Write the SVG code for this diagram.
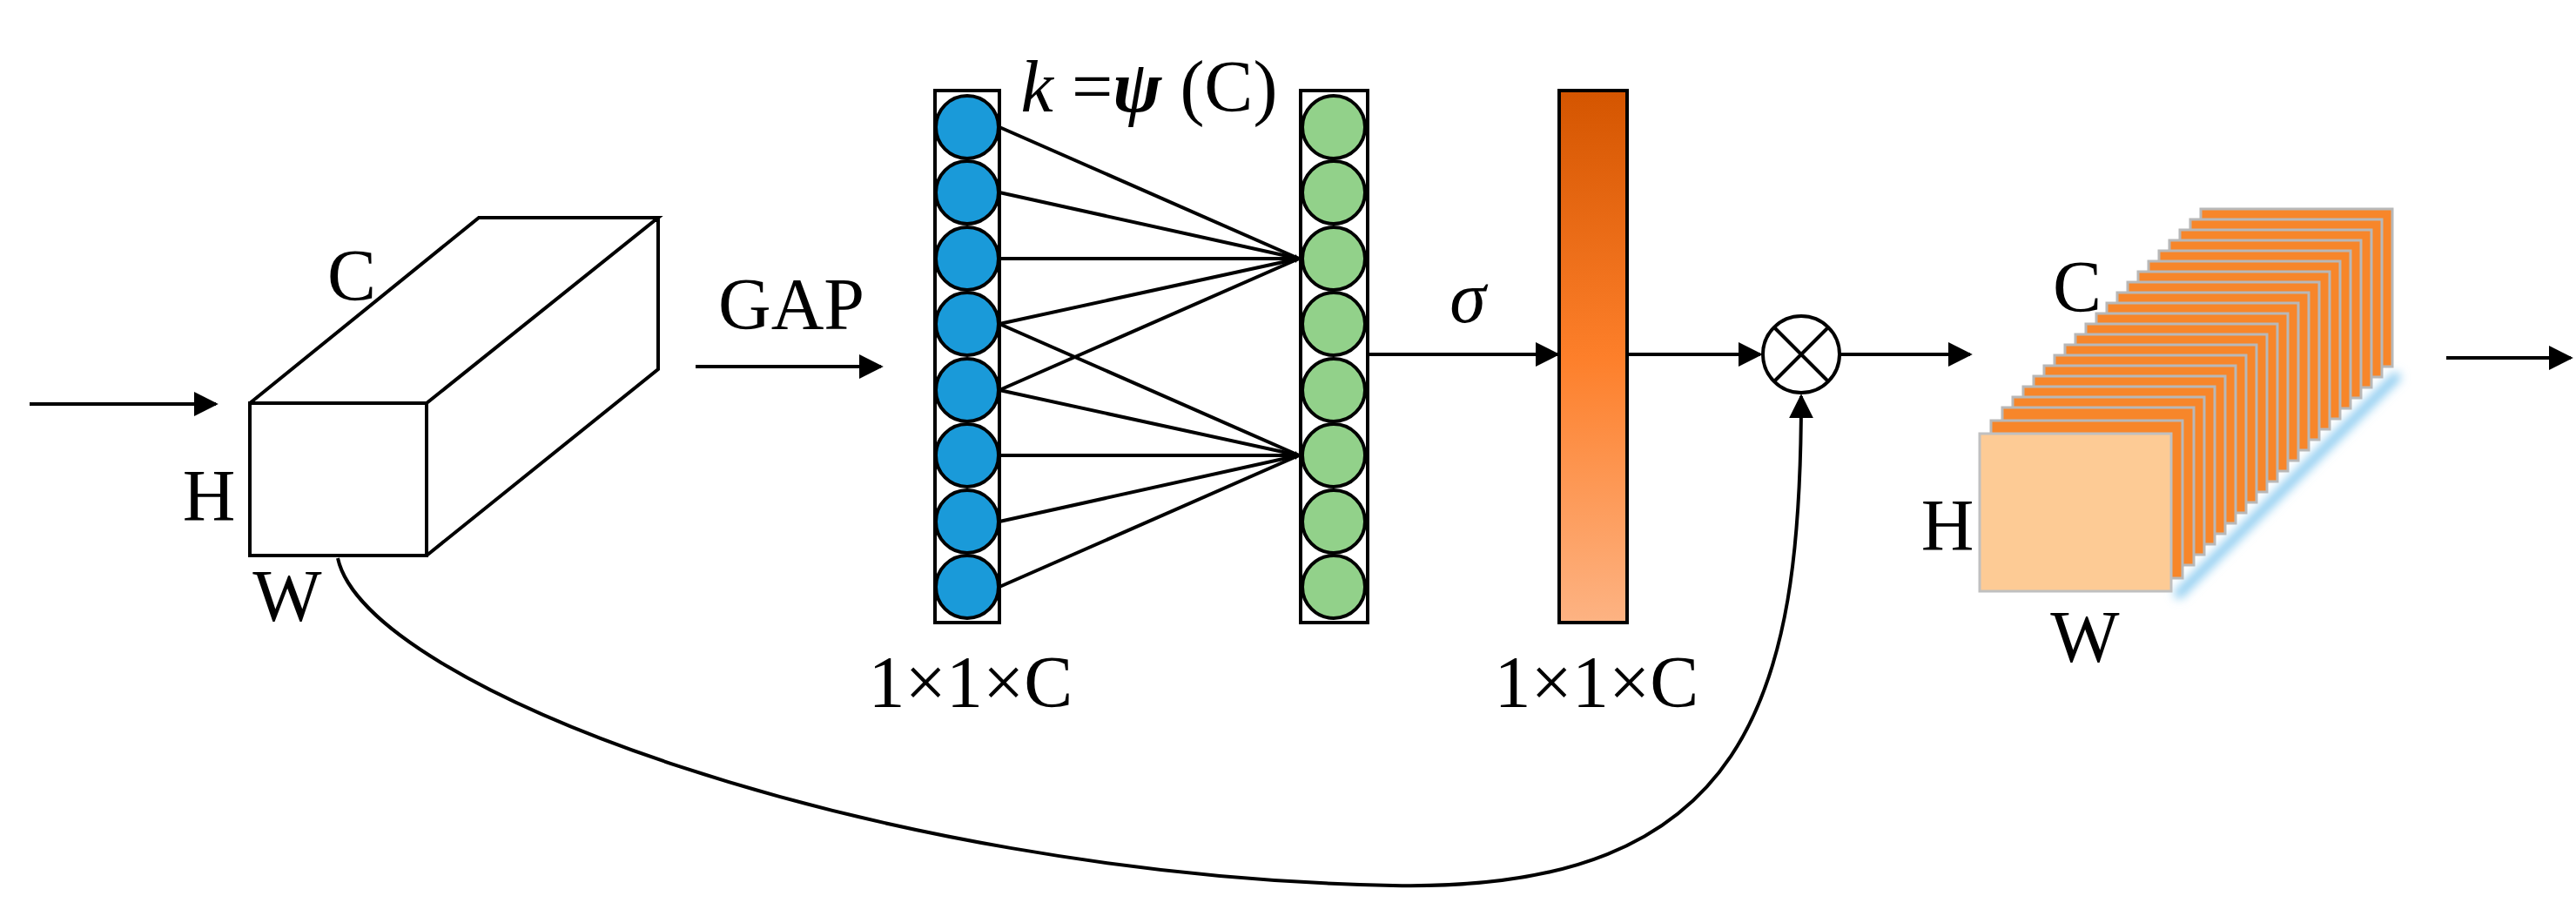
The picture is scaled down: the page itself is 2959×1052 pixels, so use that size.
<svg xmlns="http://www.w3.org/2000/svg" width="2959" height="1052" viewBox="0 0 2959 1052">
<defs>
<style>
.t{font-family:"Liberation Serif",serif;font-size:84px;fill:#000;text-anchor:middle}
.ln{stroke:#000;stroke-width:4;fill:none}
.bc{fill:#1a9ad9;stroke:#000;stroke-width:4}
.gc{fill:#92d18a;stroke:#000;stroke-width:4}
.sl{fill:#f7862a;stroke:#b8b8b8;stroke-width:3}
</style>
<marker id="ar" viewBox="0 0 10 10" refX="9" refY="5" markerWidth="6" markerHeight="6" markerUnits="userSpaceOnUse" orient="auto"><path d="M0,0L10,5L0,10z" fill="#000"/></marker>
<marker id="a2" viewBox="0 0 10 10" refX="9" refY="5" markerWidth="7" markerHeight="7" orient="auto"><path d="M0,0L10,5L0,10z" fill="#000"/></marker>
<linearGradient id="og" x1="0" y1="0" x2="0" y2="1"><stop offset="0" stop-color="#d45500"/><stop offset="0.5" stop-color="#fd7f2a"/><stop offset="1" stop-color="#fdb383"/></linearGradient>
<filter id="bl" x="-20%" y="-20%" width="140%" height="140%"><feGaussianBlur stdDeviation="6"/></filter>
</defs>
<g id="input-arrow"><line class="ln" x1="34" y1="464" x2="248" y2="464" marker-end="url(#a2)"/></g>
<g id="input-cube">
<path class="ln" d="M287,463H490V638H287Z M287,463L550,250H756L490,463 M756,250V424L490,638" stroke-linejoin="miter"/>
<text class="t" x="404" y="345">C</text>
<text class="t" x="240" y="598">H</text>
<text class="t" x="330" y="713">W</text>
</g>
<g id="gap"><text class="t" x="909" y="378">GAP</text><line class="ln" x1="799" y1="421" x2="1012" y2="421" marker-end="url(#a2)"/></g>
<g id="connectors">
<g class="ln" marker-end="url(#ar)">
<line x1="1148" y1="146" x2="1492" y2="297"/>
<line x1="1148" y1="221" x2="1492" y2="297"/>
<line x1="1148" y1="297" x2="1492" y2="297"/>
<line x1="1148" y1="372" x2="1492" y2="297"/>
<line x1="1148" y1="448" x2="1492" y2="297"/>
<line x1="1148" y1="372" x2="1492" y2="523"/>
<line x1="1148" y1="448" x2="1492" y2="523"/>
<line x1="1148" y1="523" x2="1492" y2="523"/>
<line x1="1148" y1="599" x2="1492" y2="523"/>
<line x1="1148" y1="674" x2="1492" y2="523"/>
</g>
<line class="ln" x1="1571" y1="407" x2="1789" y2="407" marker-end="url(#a2)"/>
<line class="ln" x1="1869" y1="407" x2="2022" y2="407" marker-end="url(#a2)"/>
<line class="ln" x1="2114" y1="407" x2="2263" y2="407" marker-end="url(#a2)"/>
<line class="ln" x1="2810" y1="411" x2="2953" y2="411" marker-end="url(#a2)"/>
<path class="ln" d="M388,641C420,790 1000,1005 1600,1017C2010,1025 2069,800 2069,455" marker-end="url(#a2)"/>
</g>
<g id="blue-col">
<rect x="1074" y="104" width="74" height="611" fill="#fff" stroke="#000" stroke-width="4"/>
<circle class="bc" cx="1111" cy="146" r="36"/><circle class="bc" cx="1111" cy="221" r="36"/><circle class="bc" cx="1111" cy="297" r="36"/><circle class="bc" cx="1111" cy="372" r="36"/><circle class="bc" cx="1111" cy="448" r="36"/><circle class="bc" cx="1111" cy="523" r="36"/><circle class="bc" cx="1111" cy="599" r="36"/><circle class="bc" cx="1111" cy="674" r="36"/>
<text class="t" x="1115" y="812">1×1×C</text>
</g>
<g id="kpsi"><text class="t" x="1320" y="128"><tspan font-style="italic">k</tspan> =<tspan font-style="italic" font-weight="bold">ψ</tspan> (C)</text></g>
<g id="green-col">
<rect x="1494" y="104" width="77" height="611" fill="#fff" stroke="#000" stroke-width="4"/>
<circle class="gc" cx="1532" cy="146" r="36"/><circle class="gc" cx="1532" cy="221" r="36"/><circle class="gc" cx="1532" cy="297" r="36"/><circle class="gc" cx="1532" cy="372" r="36"/><circle class="gc" cx="1532" cy="448" r="36"/><circle class="gc" cx="1532" cy="523" r="36"/><circle class="gc" cx="1532" cy="599" r="36"/><circle class="gc" cx="1532" cy="674" r="36"/>
</g>
<g id="sigma"><text class="t" x="1686" y="370" font-style="italic">σ</text></g>
<g id="orange-bar">
<rect x="1791" y="104" width="78" height="611" fill="url(#og)" stroke="#000" stroke-width="4"/>
<text class="t" x="1834" y="812">1×1×C</text>
</g>
<g id="multiply">
<circle cx="2069" cy="407" r="44" fill="#fff" stroke="#000" stroke-width="4"/>
<path class="ln" d="M2038,376L2100,438M2100,376L2038,438"/>
</g>
<g id="output-cube">
<path d="M2500,685L2755,430" stroke="#7cc4ee" stroke-width="10" filter="url(#bl)"/>
<g id="slices">
<rect class="sl" x="2528" y="240" width="220" height="181"/>
<rect class="sl" x="2516" y="252" width="220" height="181"/>
<rect class="sl" x="2504" y="264" width="220" height="181"/>
<rect class="sl" x="2492" y="276" width="220" height="181"/>
<rect class="sl" x="2480" y="288" width="220" height="181"/>
<rect class="sl" x="2468" y="300" width="220" height="181"/>
<rect class="sl" x="2456" y="312" width="220" height="181"/>
<rect class="sl" x="2444" y="324" width="220" height="181"/>
<rect class="sl" x="2432" y="336" width="220" height="181"/>
<rect class="sl" x="2420" y="348" width="220" height="181"/>
<rect class="sl" x="2408" y="360" width="220" height="181"/>
<rect class="sl" x="2396" y="372" width="220" height="181"/>
<rect class="sl" x="2384" y="384" width="220" height="181"/>
<rect class="sl" x="2372" y="396" width="220" height="181" fill="#f89040"/>
<rect class="sl" x="2360" y="408" width="220" height="181" fill="#f99a50"/>
<rect class="sl" x="2348" y="420" width="220" height="181" fill="#faa460"/>
<rect class="sl" x="2336" y="432" width="220" height="181" fill="#faae70"/>
<rect class="sl" x="2324" y="444" width="220" height="181" fill="#fbb87e"/>
<rect class="sl" x="2312" y="456" width="220" height="181" fill="#fcc08a"/>
<rect class="sl" x="2300" y="468" width="220" height="181" fill="#fcc48f"/>
<rect class="sl" x="2287" y="483" width="220" height="181" fill="#fdc992"/>
</g>
<rect x="2274" y="498" width="220" height="181" fill="#fdcb95" stroke="#c0c0c0" stroke-width="3"/>
<text class="t" x="2386" y="358">C</text>
<text class="t" x="2237" y="632">H</text>
<text class="t" x="2395" y="760">W</text>
</g>
</svg>
